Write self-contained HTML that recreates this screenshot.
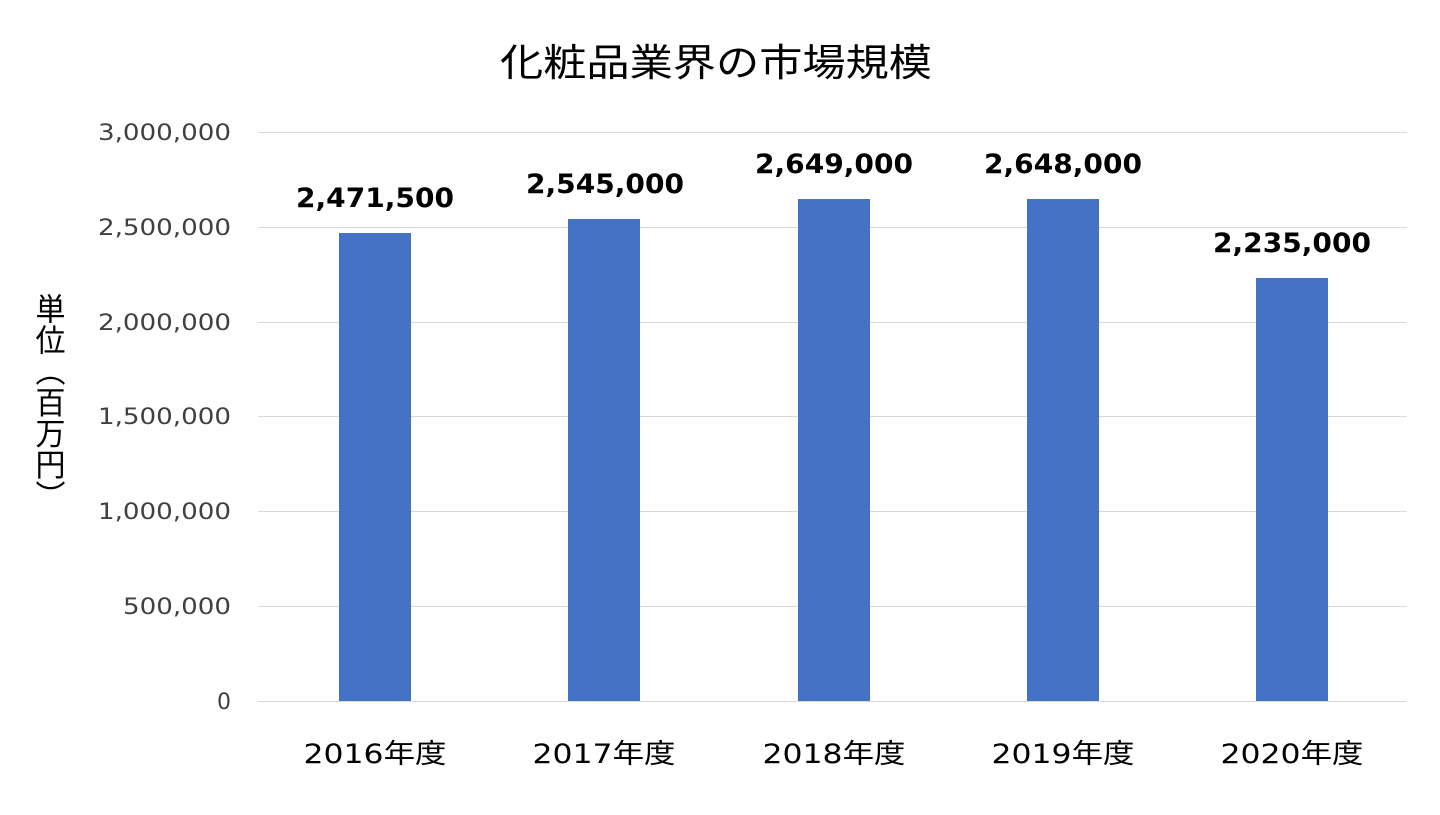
<!DOCTYPE html>
<html><head><meta charset="utf-8"><style>
body{margin:0;background:#fff;}
svg text{font-family:"DejaVu Sans","Noto Sans CJK JP",sans-serif;}
</style></head><body>
<svg width="1440" height="810" xmlns="http://www.w3.org/2000/svg">
<rect width="1440" height="810" fill="#fff"/>
<text x="716" y="76" font-size="38" text-anchor="middle" fill="#000" textLength="432" lengthAdjust="spacingAndGlyphs">化粧品業界の市場規模</text>
<g stroke="#d9d9d9" stroke-width="1">
<line x1="258" x2="1407" y1="132.5" y2="132.5"/>
<line x1="258" x2="1407" y1="227.5" y2="227.5"/>
<line x1="258" x2="1407" y1="322.5" y2="322.5"/>
<line x1="258" x2="1407" y1="416.5" y2="416.5"/>
<line x1="258" x2="1407" y1="511.5" y2="511.5"/>
<line x1="258" x2="1407" y1="606.5" y2="606.5"/>
<line x1="258" x2="1407" y1="701.5" y2="701.5"/>
</g>
<g font-size="22" fill="#404040" text-anchor="end">
<text x="231" y="140" textLength="133" lengthAdjust="spacingAndGlyphs">3,000,000</text>
<text x="231" y="235" textLength="133" lengthAdjust="spacingAndGlyphs">2,500,000</text>
<text x="231" y="330" textLength="133" lengthAdjust="spacingAndGlyphs">2,000,000</text>
<text x="231" y="424" textLength="133" lengthAdjust="spacingAndGlyphs">1,500,000</text>
<text x="231" y="519" textLength="133" lengthAdjust="spacingAndGlyphs">1,000,000</text>
<text x="231" y="614" textLength="108" lengthAdjust="spacingAndGlyphs">500,000</text>
<text x="231" y="709">0</text>
</g>
<text x="47" y="293" font-size="30" fill="#000" style="writing-mode:vertical-rl" textLength="218" lengthAdjust="spacingAndGlyphs">単位（百万円）</text>
<g fill="#4472c4">
<rect x="339" y="233" width="72" height="468"/>
<rect x="568" y="219" width="72" height="482"/>
<rect x="798" y="199" width="72" height="502"/>
<rect x="1027" y="199" width="72" height="502"/>
<rect x="1256" y="278" width="72" height="423"/>
</g>
<g font-size="27" font-weight="bold" fill="#000" text-anchor="middle">
<text x="375" y="207" textLength="158" lengthAdjust="spacingAndGlyphs">2,471,500</text>
<text x="605" y="193" textLength="158" lengthAdjust="spacingAndGlyphs">2,545,000</text>
<text x="834" y="173" textLength="158" lengthAdjust="spacingAndGlyphs">2,649,000</text>
<text x="1063" y="173" textLength="158" lengthAdjust="spacingAndGlyphs">2,648,000</text>
<text x="1292" y="252" textLength="158" lengthAdjust="spacingAndGlyphs">2,235,000</text>
</g>
<g font-size="27" fill="#000" text-anchor="middle">
<text x="375" y="763" textLength="143" lengthAdjust="spacingAndGlyphs">2016年度</text>
<text x="604" y="763" textLength="143" lengthAdjust="spacingAndGlyphs">2017年度</text>
<text x="834" y="763" textLength="143" lengthAdjust="spacingAndGlyphs">2018年度</text>
<text x="1063" y="763" textLength="143" lengthAdjust="spacingAndGlyphs">2019年度</text>
<text x="1292" y="763" textLength="143" lengthAdjust="spacingAndGlyphs">2020年度</text>
</g>
</svg>
</body></html>
